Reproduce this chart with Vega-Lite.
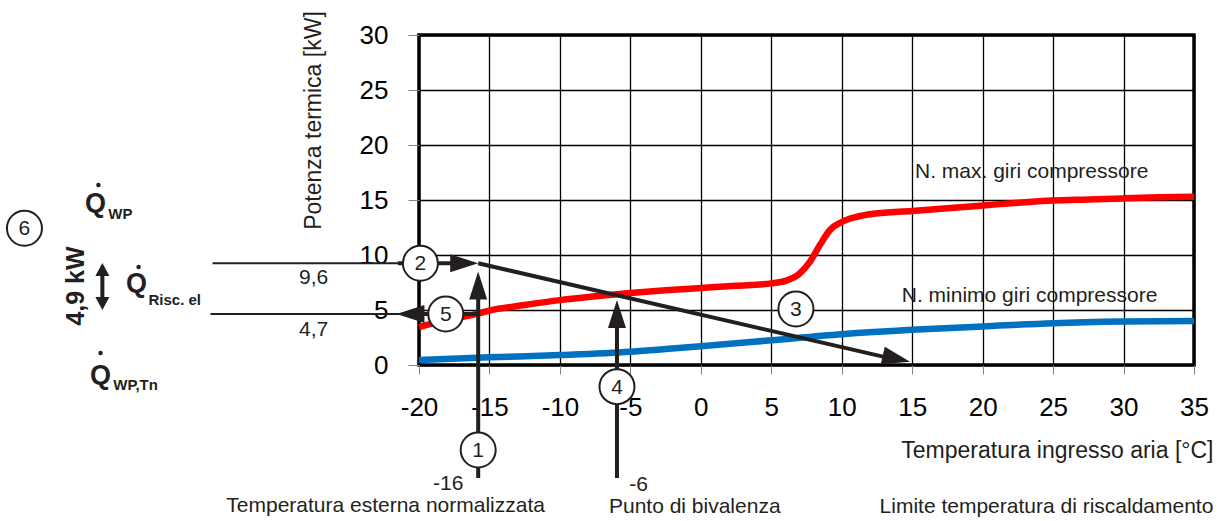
{
  "$schema": "https://vega.github.io/schema/vega-lite/v6.json",
  "width": 775,
  "height": 330,
  "autosize": {"type": "none"},
  "padding": {"left": 419, "top": 35, "right": 27, "bottom": 156},
  "background": "white",
  "config": {
    "font": "Liberation Sans",
    "view": {"stroke": "#000000", "strokeWidth": 3.5}
  },
  "datasets": {
    "curves": [
      {"x": -20, "y": 3.45, "serie": "max"},
      {"x": -18, "y": 4.1, "serie": "max"},
      {"x": -16, "y": 4.62, "serie": "max"},
      {"x": -15, "y": 4.95, "serie": "max"},
      {"x": -12.5, "y": 5.45, "serie": "max"},
      {"x": -10, "y": 5.9, "serie": "max"},
      {"x": -7.5, "y": 6.25, "serie": "max"},
      {"x": -5, "y": 6.55, "serie": "max"},
      {"x": -2.5, "y": 6.8, "serie": "max"},
      {"x": 0, "y": 7.0, "serie": "max"},
      {"x": 2.5, "y": 7.2, "serie": "max"},
      {"x": 5, "y": 7.42, "serie": "max"},
      {"x": 6, "y": 7.65, "serie": "max"},
      {"x": 7, "y": 8.3, "serie": "max"},
      {"x": 7.75, "y": 9.4, "serie": "max"},
      {"x": 8.45, "y": 10.9, "serie": "max"},
      {"x": 9.15, "y": 12.25, "serie": "max"},
      {"x": 10, "y": 13.0, "serie": "max"},
      {"x": 11, "y": 13.45, "serie": "max"},
      {"x": 12.25, "y": 13.75, "serie": "max"},
      {"x": 15, "y": 14.0, "serie": "max"},
      {"x": 17.5, "y": 14.25, "serie": "max"},
      {"x": 20, "y": 14.5, "serie": "max"},
      {"x": 22.5, "y": 14.75, "serie": "max"},
      {"x": 25, "y": 14.95, "serie": "max"},
      {"x": 27.5, "y": 15.05, "serie": "max"},
      {"x": 30, "y": 15.15, "serie": "max"},
      {"x": 32.5, "y": 15.25, "serie": "max"},
      {"x": 35, "y": 15.3, "serie": "max"},
      {"x": -20, "y": 0.45, "serie": "min"},
      {"x": -15, "y": 0.7, "serie": "min"},
      {"x": -10, "y": 0.9, "serie": "min"},
      {"x": -5, "y": 1.2, "serie": "min"},
      {"x": -2.5, "y": 1.45, "serie": "min"},
      {"x": 0, "y": 1.7, "serie": "min"},
      {"x": 5, "y": 2.25, "serie": "min"},
      {"x": 10, "y": 2.8, "serie": "min"},
      {"x": 15, "y": 3.2, "serie": "min"},
      {"x": 20, "y": 3.5, "serie": "min"},
      {"x": 25, "y": 3.8, "serie": "min"},
      {"x": 30, "y": 3.95, "serie": "min"},
      {"x": 35, "y": 4.0, "serie": "min"}
    ],
    "thinRules": [
      {"x": -34.65, "y": 9.25, "x2": -21.0, "y2": 9.25},
      {"x": -34.8, "y": 4.64, "x2": -21.0, "y2": 4.64}
    ],
    "thickRules": [
      {"x": -21.5, "y": 9.25, "x2": -17.0, "y2": 9.25},
      {"x": -20.0, "y": 4.64, "x2": -15.8, "y2": 4.64},
      {"x": -15.8, "y": -10.27, "x2": -15.8, "y2": 7.0},
      {"x": -5.95, "y": -10.27, "x2": -5.95, "y2": 4.2},
      {"x": -15.8, "y": 9.25, "x2": 13.47, "y2": 0.6},
      {"x": -42.47, "y": 8.9, "x2": -42.47, "y2": 5.4}
    ],
    "headsRight": [{"x": -15.8, "y": 9.25}],
    "headsLeft": [{"x": -21.6, "y": 4.64}],
    "headsUp": [{"x": -15.8, "y": 8.5}, {"x": -5.95, "y": 5.9}],
    "headsDiag": [{"x": 14.85, "y": 0.3}],
    "smallUp": [{"x": -42.47, "y": 9.27}],
    "smallDown": [{"x": -42.47, "y": 5.0}],
    "circles": [
      {"x": -15.8, "y": -7.73, "n": "1"},
      {"x": -19.9, "y": 9.25, "n": "2"},
      {"x": 6.75, "y": 5.09, "n": "3"},
      {"x": -5.95, "y": -1.97, "n": "4"},
      {"x": -18.1, "y": 4.64, "n": "5"},
      {"x": -48.0, "y": 12.43, "n": "6"}
    ],
    "labels": [
      {"x": -27.48, "y": 7.36, "label": "9,6"},
      {"x": -27.48, "y": 2.64, "label": "4,7"},
      {"x": 23.48, "y": 16.97, "label": "N. max. giri compressore"},
      {"x": 23.33, "y": 5.75, "label": "N. minimo giri compressore"},
      {"x": -17.93, "y": -11.4, "label": "-16"},
      {"x": -4.41, "y": -11.45, "label": "-6"},
      {"x": -22.37, "y": -13.36, "label": "Temperatura esterna normalizzata"},
      {"x": -0.43, "y": -13.45, "label": "Punto di bivalenza"},
      {"x": 24.53, "y": -13.45, "label": "Limite temperatura di riscaldamento"}
    ],
    "qLetters": [
      {"x": -43.7, "y": 13.9, "label": "Q"},
      {"x": -40.8, "y": 6.64, "label": "Q"},
      {"x": -43.35, "y": -1.73, "label": "Q"}
    ],
    "qSubs": [
      {"x": -42.05, "y": 13.27, "label": "WP"},
      {"x": -39.2, "y": 5.45, "label": "Risc. el"},
      {"x": -41.7, "y": -2.27, "label": "WP,Tn"}
    ],
    "qDots": [
      {"x": -42.75, "y": 16.36},
      {"x": -39.9, "y": 8.9},
      {"x": -42.6, "y": 1.09}
    ],
    "delta": [{"x": -44.35, "y": 7.18, "label": "4,9 kW"}]
  },
  "encoding": {
    "x": {
      "field": "x",
      "type": "quantitative",
      "scale": {"domain": [-20, 35], "nice": false, "zero": false},
      "axis": {
        "values": [-20, -15, -10, -5, 0, 5, 10, 15, 20, 25, 30, 35],
        "labelExpr": "'' + datum.value",
        "grid": true,
        "gridColor": "#000000",
        "gridWidth": 1.3,
        "gridOpacity": 1,
        "domain": false,
        "ticks": true,
        "tickSize": 9,
        "tickColor": "#808080",
        "tickWidth": 1,
        "labelFontSize": 26,
        "labelPadding": 20,
        "labelColor": "#000000",
        "labelFlush": false,
        "labelOverlap": false,
        "title": "Temperatura ingresso aria [°C]",
        "titleX": 794,
        "titleY": 92,
        "titleAlign": "right",
        "titleBaseline": "alphabetic",
        "titleFontSize": 23,
        "titleFontWeight": "normal",
        "titleColor": "#231f20"
      }
    },
    "y": {
      "field": "y",
      "type": "quantitative",
      "scale": {"domain": [0, 30], "nice": false, "zero": false},
      "axis": {
        "values": [0, 5, 10, 15, 20, 25, 30],
        "labelExpr": "'' + datum.value",
        "grid": true,
        "gridColor": "#000000",
        "gridWidth": 1.3,
        "gridOpacity": 1,
        "domain": false,
        "ticks": true,
        "tickSize": 11,
        "tickColor": "#808080",
        "tickWidth": 1,
        "labelFontSize": 26,
        "labelPadding": 20,
        "labelColor": "#000000",
        "labelFlush": false,
        "labelOverlap": false,
        "title": "Potenza termica [kW]",
        "titleX": -106,
        "titleY": 85,
        "titleAngle": 270,
        "titleAlign": "center",
        "titleBaseline": "middle",
        "titleFontSize": 23,
        "titleFontWeight": "normal",
        "titleColor": "#231f20"
      }
    }
  },
  "layer": [
    {
      "data": {"name": "curves"},
      "mark": {"type": "line", "interpolate": "monotone", "strokeWidth": 6.5, "strokeCap": "butt"},
      "encoding": {
        "color": {"field": "serie", "type": "nominal", "scale": {"domain": ["max", "min"], "range": ["#ff0000", "#0070c0"]}, "legend": null}
      }
    },
    {
      "data": {"name": "thinRules"},
      "mark": {"type": "rule", "color": "#231f20", "strokeWidth": 2},
      "encoding": {"x2": {"field": "x2"}, "y2": {"field": "y2"}}
    },
    {
      "data": {"name": "thickRules"},
      "mark": {"type": "rule", "color": "#231f20", "strokeWidth": 4},
      "encoding": {"x2": {"field": "x2"}, "y2": {"field": "y2"}}
    },
    {
      "data": {"name": "headsRight"},
      "mark": {"type": "point", "shape": "M0,0L-2.8,-0.9L-2.8,0.9Z", "size": 400, "filled": true, "color": "#231f20", "opacity": 1, "angle": 0}
    },
    {
      "data": {"name": "headsLeft"},
      "mark": {"type": "point", "shape": "M0,0L-2.8,-0.9L-2.8,0.9Z", "size": 400, "filled": true, "color": "#231f20", "opacity": 1, "angle": 180}
    },
    {
      "data": {"name": "headsUp"},
      "mark": {"type": "point", "shape": "M0,0L-2.8,-0.9L-2.8,0.9Z", "size": 400, "filled": true, "color": "#231f20", "opacity": 1, "angle": 270}
    },
    {
      "data": {"name": "headsDiag"},
      "mark": {"type": "point", "shape": "M0,0L-2.8,-0.9L-2.8,0.9Z", "size": 400, "filled": true, "color": "#231f20", "opacity": 1, "angle": 13}
    },
    {
      "data": {"name": "smallUp"},
      "mark": {"type": "point", "shape": "M0,0L-2.6,-1.4L-2.6,1.4Z", "size": 100, "filled": true, "color": "#231f20", "opacity": 1, "angle": 270}
    },
    {
      "data": {"name": "smallDown"},
      "mark": {"type": "point", "shape": "M0,0L-2.6,-1.4L-2.6,1.4Z", "size": 100, "filled": true, "color": "#231f20", "opacity": 1, "angle": 90}
    },
    {
      "data": {"name": "circles"},
      "mark": {"type": "point", "shape": "circle", "size": 1225, "filled": true, "fill": "white", "stroke": "#231f20", "strokeWidth": 2, "opacity": 1}
    },
    {
      "data": {"name": "circles"},
      "mark": {"type": "text", "fontSize": 21, "align": "center", "baseline": "middle", "dy": 1, "color": "#231f20"},
      "encoding": {"text": {"field": "n"}}
    },
    {
      "data": {"name": "labels"},
      "mark": {"type": "text", "fontSize": 21, "align": "center", "baseline": "alphabetic", "color": "#231f20"},
      "encoding": {"text": {"field": "label"}}
    },
    {
      "data": {"name": "qLetters"},
      "mark": {"type": "text", "fontSize": 27, "fontWeight": "bold", "align": "left", "baseline": "alphabetic", "color": "#231f20"},
      "encoding": {"text": {"field": "label"}}
    },
    {
      "data": {"name": "qSubs"},
      "mark": {"type": "text", "fontSize": 15, "fontWeight": "bold", "align": "left", "baseline": "alphabetic", "color": "#231f20"},
      "encoding": {"text": {"field": "label"}}
    },
    {
      "data": {"name": "qDots"},
      "mark": {"type": "point", "shape": "circle", "size": 20, "filled": true, "color": "#231f20", "opacity": 1}
    },
    {
      "data": {"name": "delta"},
      "mark": {"type": "text", "fontSize": 25, "fontWeight": "bold", "align": "center", "baseline": "middle", "angle": 270, "color": "#231f20"},
      "encoding": {"text": {"field": "label"}}
    }
  ]
}
